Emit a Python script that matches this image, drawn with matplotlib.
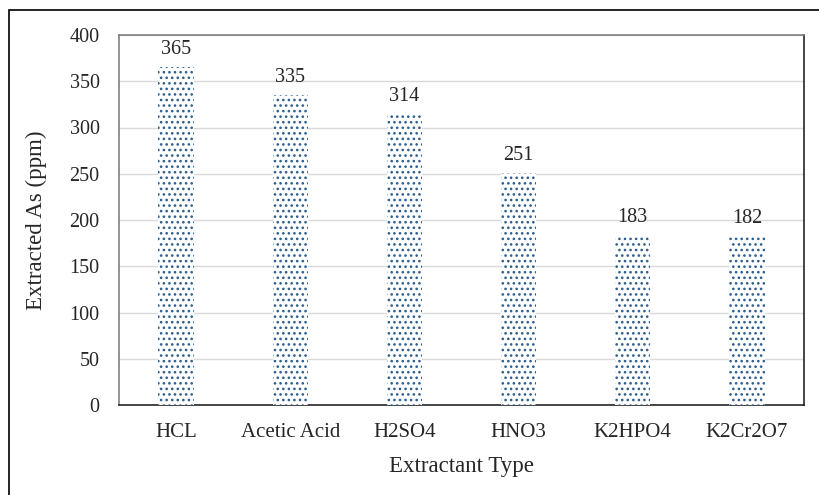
import numpy as np
import matplotlib
matplotlib.use('Agg')
import matplotlib.pyplot as plt
from matplotlib.patches import Rectangle

categories = ['HCL', 'Acetic Acid', 'H2SO4', 'HNO3', 'K2HPO4', 'K2Cr2O7']
extracted = [365, 335, 314, 251, 183, 182]
y_ticks = [0, 50, 100, 150, 200, 250, 300, 350, 400]

plt.rcParams['font.family'] = ['Liberation Serif', 'DejaVu Serif']
plt.rcParams['hatch.linewidth'] = 1.1

fig = plt.figure(figsize=(8.19, 4.95), dpi=100)
ax = fig.add_axes([119 / 819, 1 - 405 / 495, (804 - 119) / 819, (405 - 35) / 495])

# outer frame of the chart (cropped at right and bottom)
fig.patches.append(Rectangle((9 / 819, -0.1), 1.0, 1 - 10 / 495 + 0.1,
                             transform=fig.transFigure, fill=False,
                             edgecolor='black', linewidth=1.2))

idx = np.arange(len(categories))
bars = ax.bar(idx, extracted, width=0.31, color='white', edgecolor='#2f5f8f',
              hatch='...', linewidth=0, zorder=3)

for x, v in zip(idx, extracted):
    ax.text(x, v + 9, str(v), ha='center', va='bottom', fontsize=14.5, color='#262626')

ax.set_xlim(-0.5, len(categories) - 0.5)
ax.set_ylim(0, 400)
ax.set_yticks(y_ticks)
ax.set_xticks(idx)
ax.set_xticklabels(categories)
ax.tick_params(length=0, labelcolor='#262626')
ax.tick_params(axis='x', pad=13, labelsize=15)
ax.tick_params(axis='y', pad=14, labelsize=14.5)
ax.grid(axis='y', color='#d9d9d9', linewidth=1.0, zorder=0)
ax.set_axisbelow(True)

ax.spines['left'].set_color('#808080')
ax.spines['bottom'].set_color('#262626')
ax.spines['right'].set_color('#262626')
ax.spines['top'].set_color('#808080')
for s in ax.spines.values():
    s.set_linewidth(1.2)

ax.set_xlabel('Extractant Type', fontsize=16.5, color='#262626', labelpad=10)
ax.set_ylabel('Extracted As (ppm)', fontsize=16.5, color='#262626', labelpad=16)

fig.savefig('out.png', dpi=100)
